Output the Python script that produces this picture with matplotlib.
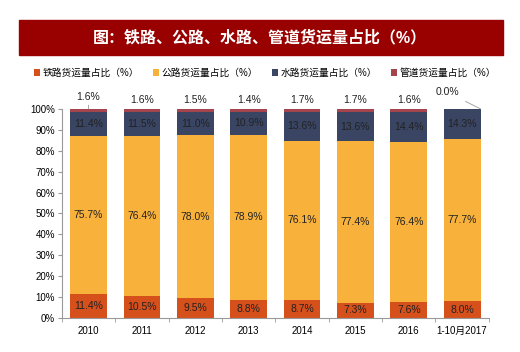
import matplotlib
matplotlib.use('Agg')
import matplotlib.pyplot as plt
import numpy as np
from matplotlib.patches import Rectangle

plt.rcParams['font.family'] = ['Liberation Sans', 'Noto Sans CJK SC', 'DejaVu Sans']

years = ['2010', '2011', '2012', '2013', '2014', '2015', '2016', '1-10月2017']
rail = [11.4, 10.5, 9.5, 8.8, 8.7, 7.3, 7.6, 8.0]
road = [75.7, 76.4, 78.0, 78.9, 76.1, 77.4, 76.4, 77.7]
water = [11.4, 11.5, 11.0, 10.9, 13.6, 13.6, 14.4, 14.3]
pipe = [1.6, 1.6, 1.5, 1.4, 1.7, 1.7, 1.6, 0.0]
names = ['铁路货运量占比（%）', '公路货运量占比（%）', '水路货运量占比（%）', '管道货运量占比（%）']
colors = ['#D6501C', '#F8B23C', '#394563', '#A4454E']

fig = plt.figure(figsize=(5.2, 3.52), dpi=100)

# 标题栏
fig.patches.append(Rectangle((0.037, 0.844), 0.93, 0.1, transform=fig.transFigure,
                             color='#990000', zorder=0))
fig.text(0.5, 0.893, '图：铁路、公路、水路、管道货运量占比（%）', color='white',
         fontsize=11.5, ha='center', va='center', fontweight='bold')

ax = fig.add_axes([0.119, 0.0966, 0.821, 0.594])
x = np.arange(len(years))
w = 0.69
series = [rail, road, water, pipe]
bottom = np.zeros(len(years))
bars = []
for vals, c, n in zip(series, colors, names):
    b = ax.bar(x, vals, w, bottom=bottom, color=c, label=n, zorder=2)
    bars.append(b)
    vals = np.array(vals)
    if n != names[3]:
        for xi, bt, v in zip(x, bottom, vals):
            ax.text(xi, bt + v / 2, '%.1f%%' % v, ha='center', va='center',
                    fontsize=7.5, color='#222222', zorder=3)
    bottom = bottom + vals

# 管道 标签 (在柱子上方)
for i, v in enumerate(pipe):
    if i == 7:
        ax.annotate('%.1f%%' % v, xy=(i + w / 2, 100), xytext=(i - 0.28, 108),
                    ha='center', va='center', fontsize=7.5, color='#222222',
                    arrowprops=dict(arrowstyle='-', color='#999999', lw=0.6,
                                    shrinkA=3, shrinkB=0),
                    annotation_clip=False)
    elif i == 0:
        ax.annotate('%.1f%%' % v, xy=(i, 100), xytext=(i, 105.5),
                    ha='center', va='center', fontsize=7.5, color='#222222',
                    arrowprops=dict(arrowstyle='-', color='#999999', lw=0.6,
                                    shrinkA=4, shrinkB=0),
                    annotation_clip=False)
    else:
        ax.text(i, 104.3, '%.1f%%' % v, ha='center', va='center', fontsize=7.5,
                color='#222222', clip_on=False)

ax.set_ylim(0, 100)
ax.set_xlim(-0.5, len(years) - 0.5)
ax.set_yticks(np.arange(0, 101, 10))
ax.set_yticklabels(['%d%%' % t for t in range(0, 101, 10)])
ax.set_xticks(x)
ax.set_xticklabels(years)
ax.set_xticks(np.arange(-0.5, len(years), 1), minor=True)
ax.tick_params(axis='x', which='major', length=0, labelsize=7, pad=6)
ax.tick_params(axis='x', which='minor', length=3, color='#999999', direction='out')
ax.tick_params(axis='y', length=3, color='#999999', labelsize=7, pad=2)
for s in ['top', 'right']:
    ax.spines[s].set_visible(False)
for s in ['left', 'bottom']:
    ax.spines[s].set_color('#999999')
    ax.spines[s].set_linewidth(0.8)

fig.legend(handles=bars, labels=names, loc='center', bbox_to_anchor=(0.51, 0.793),
           ncol=4, frameon=False, fontsize=7, handlelength=0.6, handleheight=0.6,
           handletextpad=0.3, columnspacing=1.4)

fig.savefig('out.png', dpi=100)
